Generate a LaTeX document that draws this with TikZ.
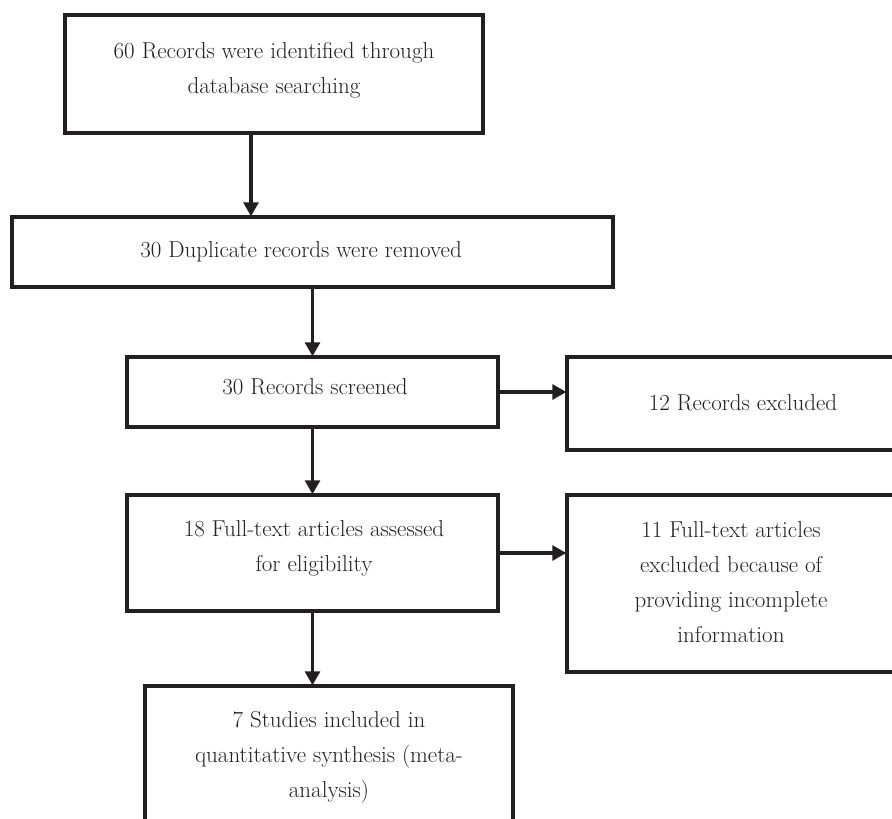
\documentclass[tikz,border=0pt]{standalone}
\usetikzlibrary{arrows.meta}
\definecolor{ink}{HTML}{231F20}
\begin{document}
\begin{tikzpicture}[x=1pt,y=-1pt,
  box/.style={draw=ink,line width=3.5pt,rectangle,inner sep=0pt,fill=none},
  txt/.style={text=ink,align=center,inner sep=0pt,font=\fontsize{23}{35}\selectfont},
  arr/.style={draw=ink,line width=3.2pt,-{Triangle[width=15pt,length=14pt]},shorten >=-1pt}]
\useasboundingbox (0,0) rectangle (892,819);
\clip (0,0) rectangle (892,819);
% boxes
\node[box,minimum width=418pt,minimum height=118pt] (b1) at (274,74) {};
\node[box,minimum width=601pt,minimum height=70pt] (b2) at (312.5,252) {};
\node[box,minimum width=371pt,minimum height=70pt] (b3) at (312.5,392) {};
\node[box,minimum width=353pt,minimum height=93pt] (b4) at (743.5,403.5) {};
\node[box,minimum width=371pt,minimum height=116pt] (b5) at (312.5,553) {};
\node[box,minimum width=330pt,minimum height=177pt] (b6) at (732,583.5) {};
\node[box,minimum width=368pt,minimum height=180pt] (b7) at (329,776) {};
\coordinate (a1) at (251,0);
% texts
\node[txt] (t1) at (274,70) {60 Records were identified through\\database searching};
\node[txt] (t2) at (301,252) {30 Duplicate records were removed};
\node[txt] (t3) at (315,387) {30 Records screened};
\node[txt] (t4) at (743,403) {12 Records excluded};
\node[txt] (t5) at (314,548.5) {18 Full-text articles assessed\\for eligibility};
\node[txt] (t6) at (731,582.5) {11 Full-text articles\\excluded because of\\providing incomplete\\information};
\node[txt] (t7) at (329,757) {7 Studies included in\\quantitative synthesis (meta-\\analysis)};
% connectors
\draw[arr] (b1.south -| a1) -- (b2.north -| a1);
\draw[arr] (b2.south) -- (b3.north);
\draw[arr] (b3.east) -- (b3.east -| b4.west);
\draw[arr] (b3.south) -- (b5.north);
\draw[arr] (b5.east) -- (b5.east -| b6.west);
\draw[arr] (b5.south) -- (b5.south |- b7.north);
\end{tikzpicture}
\end{document}
